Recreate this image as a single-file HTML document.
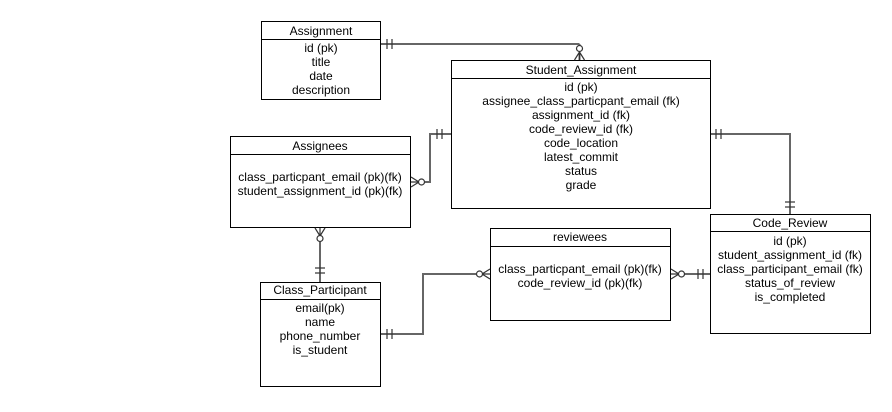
<!DOCTYPE html>
<html><head><meta charset="utf-8"><style>
body{margin:0;background:#fff}
svg text{font-family:"Liberation Sans",Arial,sans-serif;font-size:12px;fill:#000}
</style></head><body>
<svg width="892" height="407" viewBox="0 0 892 407" xmlns="http://www.w3.org/2000/svg">
<g fill="#fff" stroke="#000" stroke-width="1">
<rect x="261.5" y="21.5" width="119" height="78"/><line x1="261" y1="39.5" x2="381" y2="39.5"/>
<rect x="451.5" y="60.5" width="259" height="148"/><line x1="451" y1="78.5" x2="711" y2="78.5"/>
<rect x="230.5" y="136.5" width="180" height="91"/><line x1="230" y1="154.5" x2="411" y2="154.5"/>
<rect x="260.5" y="282.5" width="120" height="104"/><line x1="260" y1="299.5" x2="381" y2="299.5"/>
<rect x="490.5" y="228.5" width="180" height="92"/><line x1="490" y1="246.5" x2="671" y2="246.5"/>
<rect x="710.5" y="214.5" width="160" height="119"/><line x1="710" y1="231.5" x2="871" y2="231.5"/>
</g>
<g fill="none" stroke="#666" stroke-width="2">
<!-- Assignment - SA -->
<polyline points="381,44 579.5,44 579.5,44"/>
<line x1="579.5" y1="44" x2="579.5" y2="50"/>
<line x1="579.5" y1="53" x2="579.5" y2="60"/>
<!-- Assignees - SA -->
<polyline points="425,182 430,182 430,134 451,134"/>
<!-- SA - CR -->
<polyline points="711,134 790,134 790,214"/>
<!-- Assignees - CP -->
<line x1="320" y1="242" x2="320" y2="282"/>
<!-- CP - reviewees -->
<polyline points="381,334 423,334 423,274 476,274"/>
<!-- reviewees - CR -->
<line x1="684" y1="274" x2="710" y2="274"/>
</g>
<g stroke="#333" stroke-width="1.2" fill="none">
<!-- bars -->
<line x1="387" y1="39" x2="387" y2="49"/><line x1="392" y1="39" x2="392" y2="49"/>
<line x1="437" y1="129" x2="437" y2="139"/><line x1="442" y1="129" x2="442" y2="139"/>
<line x1="716" y1="129" x2="716" y2="139"/><line x1="721" y1="129" x2="721" y2="139"/>
<line x1="785" y1="202" x2="795" y2="202"/><line x1="785" y1="207" x2="795" y2="207"/>
<line x1="315" y1="268" x2="325" y2="268"/><line x1="315" y1="273" x2="325" y2="273"/>
<line x1="387" y1="329" x2="387" y2="339"/><line x1="392" y1="329" x2="392" y2="339"/>
<line x1="698" y1="269" x2="698" y2="279"/><line x1="703" y1="269" x2="703" y2="279"/>
<!-- crow's feet -->
<path d="M574.5,60 L579.5,52 L584.5,60 M579.5,52 L579.5,60"/><circle cx="579.5" cy="48.5" r="3" fill="#fff"/>
<path d="M411,177 L419,182 L411,187 M411,182 L419,182"/><circle cx="421.5" cy="182" r="3" fill="#fff"/>
<path d="M315,228 L320,236 L325,228 M320,228 L320,236"/><circle cx="320" cy="238.5" r="3" fill="#fff"/>
<path d="M490,269 L482,274 L490,279 M490,274 L482,274"/><circle cx="479.5" cy="274" r="3" fill="#fff"/>
<path d="M671,269 L679,274 L671,279 M671,274 L679,274"/><circle cx="681.5" cy="274" r="3" fill="#fff"/>
</g>
<g text-anchor="middle">
<text x="321" y="35">Assignment</text>
<text x="321" y="52">id (pk)</text><text x="321" y="66">title</text><text x="321" y="80">date</text><text x="321" y="94">description</text>
<text x="581" y="74">Student_Assignment</text>
<text x="581" y="91">id (pk)</text><text x="581" y="105">assignee_class_particpant_email (fk)</text><text x="581" y="119">assignment_id (fk)</text><text x="581" y="133">code_review_id (fk)</text><text x="581" y="147">code_location</text><text x="581" y="161">latest_commit</text><text x="581" y="175">status</text><text x="581" y="189">grade</text>
<text x="320" y="150">Assignees</text>
<text x="320" y="181">class_particpant_email (pk)(fk)</text><text x="320" y="195">student_assignment_id (pk)(fk)</text>
<text x="320" y="294">Class_Participant</text>
<text x="320" y="312">email(pk)</text><text x="320" y="326">name</text><text x="320" y="340">phone_number</text><text x="320" y="354">is_student</text>
<text x="580" y="241">reviewees</text>
<text x="580" y="273">class_particpant_email (pk)(fk)</text><text x="580" y="287">code_review_id (pk)(fk)</text>
<text x="790" y="227">Code_Review</text>
<text x="790" y="245">id (pk)</text><text x="790" y="259">student_assignment_id (fk)</text><text x="790" y="273">class_participant_email (fk)</text><text x="790" y="287">status_of_review</text><text x="790" y="301">is_completed</text>
</g>
</svg>
</body></html>
